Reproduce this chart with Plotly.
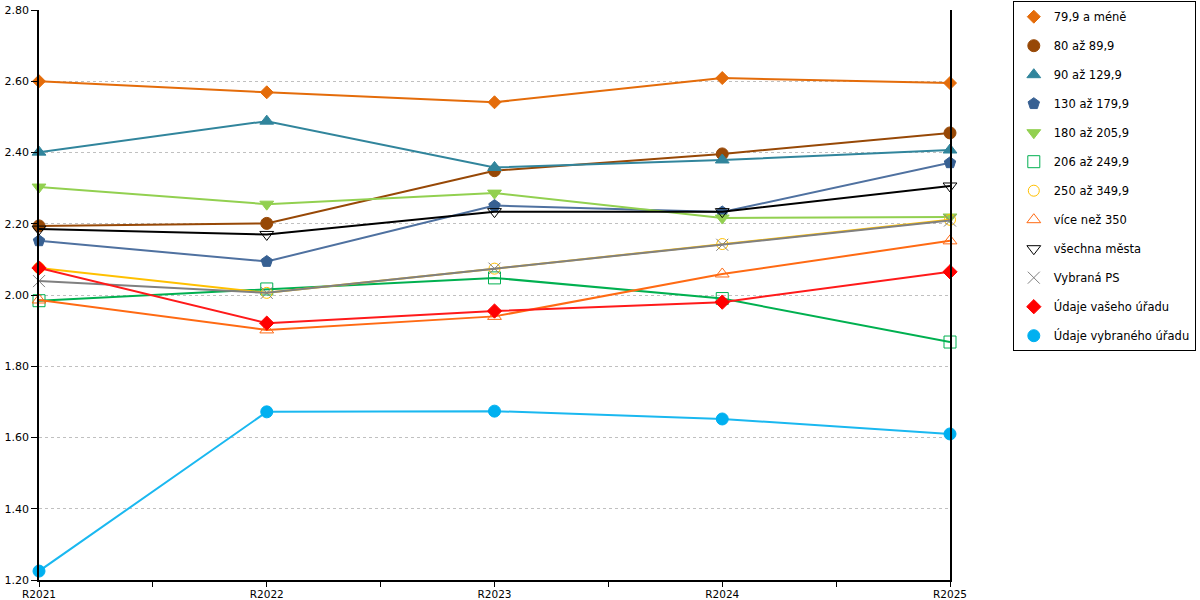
import plotly.graph_objects as go

years = ["R2021", "R2022", "R2023", "R2024", "R2025"]

names = [
    "79,9 a méně", "80 až 89,9", "90 až 129,9", "130 až 179,9",
    "180 až 205,9", "206 až 249,9", "250 až 349,9", "více než 350",
    "všechna města", "Vybraná PS", "Údaje vašeho úřadu", "Údaje vybraného úřadu",
]

v_79 = [2.600, 2.569, 2.541, 2.609, 2.595]
v_80 = [2.194, 2.201, 2.349, 2.396, 2.455]
v_90 = [2.401, 2.488, 2.358, 2.379, 2.407]
v_130 = [2.152, 2.094, 2.251, 2.233, 2.371]
v_180 = [2.303, 2.255, 2.286, 2.216, 2.219]
v_206 = [1.984, 2.017, 2.048, 1.990, 1.868]
v_250 = [2.076, 2.006, 2.074, 2.143, 2.211]
v_350 = [1.986, 1.902, 1.940, 2.059, 2.152]
v_all = [2.185, 2.170, 2.234, 2.234, 2.306]
v_ps = [2.039, 2.006, 2.074, 2.141, 2.209]
v_vas = [2.076, 1.921, 1.955, 1.980, 2.065]
v_vyb = [1.225, 1.672, 1.674, 1.652, 1.610]

values = [v_79, v_80, v_90, v_130, v_180, v_206, v_250, v_350, v_all, v_ps, v_vas, v_vyb]

colors = ["#E46C0A", "#974806", "#31859C", "#376092", "#92D050", "#00B050",
          "#FFC000", "#FF6A13", "#000000", "#808080", "#FF0000", "#00B0F0"]
line_colors = ["#E46C0A", "#974806", "#31859C", "#4F71A0", "#92D050", "#00B050",
               "#FFC000", "#FF6A13", "#000000", "#808080", "#FF1A1A", "#1AB8F0"]
symbols = ["diamond", "circle", "triangle-up", "pentagon", "triangle-down",
           "square-open", "circle-open", "triangle-up-open", "triangle-down-open",
           "x-thin-open", "diamond", "circle"]
sizes = [10, 12, 12, 12, 12, 12, 11, 12, 12, 12, 11, 12]

xs = list(range(len(years)))

fig = go.Figure()
for name, vals, col, lcol, sym, sz in zip(names, values, colors, line_colors, symbols, sizes):
    fig.add_trace(go.Scatter(
        x=xs, y=vals, mode="lines+markers", name=name, showlegend=False,
        line=dict(color=lcol, width=2),
        marker=dict(symbol=sym, size=sz, color=col, line=dict(color=col, width=1)),
        cliponaxis=False,
    ))

# legend entries show only the marker
for name, col, sym, sz in zip(names, colors, symbols, sizes):
    fig.add_trace(go.Scatter(
        x=[None], y=[None], mode="markers", name=name, legendgroup=name,
        marker=dict(symbol=sym, size=sz, color=col, line=dict(color=col, width=1)),
    ))

fig.update_layout(
    width=1200, height=600,
    margin=dict(l=39, r=250, t=10, b=20),
    paper_bgcolor="white", plot_bgcolor="white",
    font=dict(family="DejaVu Sans", size=11.5, color="#000000"),
    legend=dict(
        xref="container", yref="container",
        x=0.844, xanchor="left", y=0.998, yanchor="top",
        bordercolor="#000000", borderwidth=1,
        tracegroupgap=10, font=dict(size=11.5), maxheight=595,
    ),
)
fig.update_xaxes(
    range=[0, 4], tickvals=xs, ticktext=years, automargin=False,
    showline=True, linecolor="#000000", linewidth=1.5,
    ticks="outside", ticklen=4, tickcolor="#000000",
    minor=dict(dtick=0.5, ticks="outside", ticklen=5, tickcolor="#000000", showgrid=False),
    showgrid=False, zeroline=False, tickfont=dict(size=10.5),
)
fig.update_yaxes(
    range=[1.2, 2.8], dtick=0.2, tickformat=".2f", automargin=False,
    showline=True, mirror=True, linecolor="#000000", linewidth=1.5,
    ticks="outside", ticklen=6, tickcolor="#000000",
    showgrid=True, gridcolor="#C0C0C0", griddash="3px,3px", gridwidth=1,
    zeroline=False, tickfont=dict(size=11),
)

# drop the default 8px body margin so the figure fills the window
fig.write_html(
    "out.html",
    config={"displayModeBar": False},
    post_script="document.body.style.margin = '0px';",
)
